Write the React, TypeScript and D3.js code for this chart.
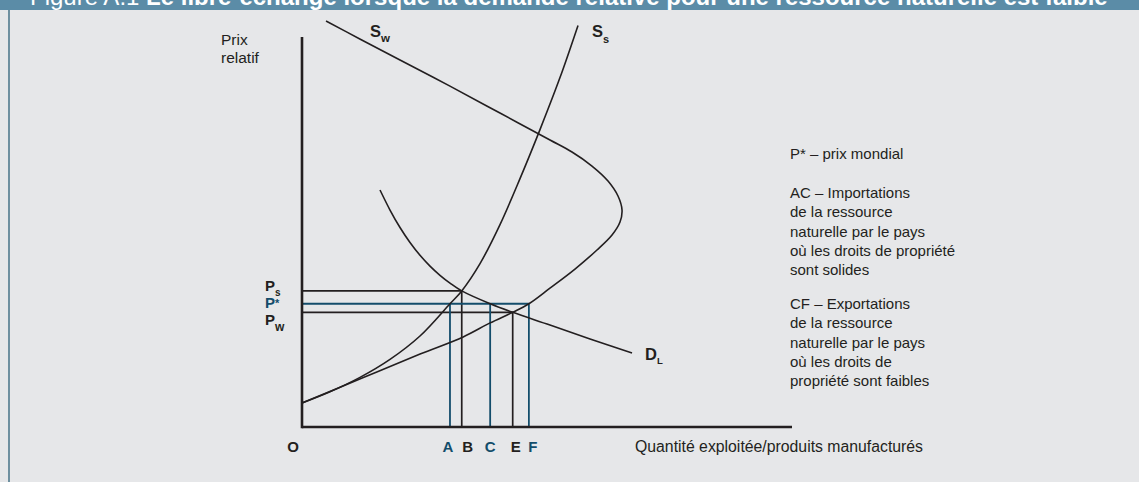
import React from 'react';
import * as d3 from 'd3';

const W = 1139;
const H = 482;

// Price levels (vertical axis, arbitrary units 0-100)
const priceNames = ['P', 'P', 'P'];
const priceSubs = ['s', '*', 'w'];
const priceValues = [34.9, 31.6, 29.4]; // Ps, P*, Pw
const priceIsWorld = [false, true, false];
const priceLineEnds = [32.6, 46.3, 43.0]; // B, F, E

// Quantity marks (horizontal axis, arbitrary units 0-100)
const quantityLabels = ['A', 'B', 'C', 'E', 'F'];
const quantityValues = [30.2, 32.6, 38.4, 43.0, 46.3];
const quantityPriceTops = [31.6, 34.9, 31.6, 29.4, 31.6];
const quantityIsWorld = [true, false, true, false, true];

// Supply curve, country with strong property rights (S_s)
const ssQ = [0, 5.71, 11.84, 17.96, 24.08, 30.2, 32.6, 36.33, 40.41, 44.49, 48.57, 52.65, 56.33];
const ssP = [6.15, 9.03, 12.72, 17.33, 23.33, 31.6, 34.9, 41.9, 51.9, 63.69, 76.26, 89.59, 102.97];

// Supply curve, country with weak property rights (S_w), backward bending
const swQ = [0, 12.4, 24.1, 32.9, 38.4, 43.0, 46.3, 50.6, 55.71, 60.2, 63.27, 64.9, 65.31, 64.49, 62.45, 59.18, 55.1, 50.61, 40.4, 30.2, 20.0, 11.8, 4.9];
const swP = [6.15, 12.6, 18.7, 23.1, 26.7, 29.4, 31.6, 35.6, 40.51, 45.38, 49.23, 52.56, 55.64, 59.23, 63.08, 66.92, 70.51, 73.59, 80.5, 87.4, 94.1, 99.5, 104.1];

// Demand curve (D_L)
const dlQ = [15.92, 17.96, 20.0, 22.04, 24.08, 26.12, 28.16, 30.2, 32.6, 38.4, 43.0, 50.61, 58.78, 67.35];
const dlP = [60.77, 55.64, 51.15, 47.31, 44.03, 41.26, 38.9, 36.9, 34.9, 31.6, 29.4, 26.15, 22.56, 18.97];

const notesAC = [
  'AC – Importations',
  'de la ressource',
  'naturelle par le pays',
  'où les droits de propriété',
  'sont solides',
];
const notesCF = [
  'CF – Exportations',
  'de la ressource',
  'naturelle par le pays',
  'où les droits de',
  'propriété sont faibles',
];

const INK = '#231f20';
const TEAL = '#134d6b';
const FONT = '"Liberation Sans", Arial, Helvetica, sans-serif';

export default function App() {
  const x = d3.scaleLinear().domain([0, 100]).range([302, 792]);
  const y = d3.scaleLinear().domain([0, 100]).range([427, 37]);

  const line = d3
    .line<[number, number]>()
    .x((d) => x(d[0]))
    .y((d) => y(d[1]))
    .curve(d3.curveCatmullRom.alpha(0.5));

  const ss = line(ssQ.map((q, i) => [q, ssP[i]] as [number, number])) || '';
  const sw = line(swQ.map((q, i) => [q, swP[i]] as [number, number])) || '';
  const dl = line(dlQ.map((q, i) => [q, dlP[i]] as [number, number])) || '';

  const noteX = 790;
  const lh = 19.3;

  return (
    <svg
      width={W}
      height={H}
      style={{ position: 'absolute', left: 0, top: 0, display: 'block' }}
      fontFamily={FONT}
    >
      <rect x={0} y={0} width={W} height={H} fill="#e6e7e9" />
      <rect x={0} y={0} width={W} height={10} fill="#5b8ca7" />
      <line x1={9} x2={9} y1={10} y2={H} stroke="#2f6079" strokeWidth={1.3} />
      <text x={30} y={5} fill="#ffffff" fontSize={24}>
        <tspan fontWeight={400}>Figure A.1 </tspan>
        <tspan fontWeight={700}>
          Le libre-échange lorsque la demande relative pour une ressource naturelle est faible
        </tspan>
      </text>

      {/* axis titles */}
      <text x={221} y={45} fontSize={15.5} fill={INK}>Prix</text>
      <text x={221} y={63} fontSize={15.5} fill={INK}>relatif</text>
      <text x={635} y={452} fontSize={15.8} fill={INK}>Quantité exploitée/produits manufacturés</text>

      {/* guide lines (black first, teal on top) */}
      {priceValues.map((p, i) =>
        priceIsWorld[i] ? null : (
          <line key={'hp' + i} x1={x(0)} x2={x(priceLineEnds[i])} y1={y(p)} y2={y(p)} stroke={INK} strokeWidth={1.7} />
        )
      )}
      {quantityValues.map((q, i) =>
        quantityIsWorld[i] ? null : (
          <line key={'vq' + i} x1={x(q)} x2={x(q)} y1={y(0)} y2={y(quantityPriceTops[i])} stroke={INK} strokeWidth={1.7} />
        )
      )}
      {priceValues.map((p, i) =>
        priceIsWorld[i] ? (
          <line key={'hpw' + i} x1={x(0)} x2={x(priceLineEnds[i])} y1={y(p)} y2={y(p)} stroke={TEAL} strokeWidth={1.8} />
        ) : null
      )}
      {quantityValues.map((q, i) =>
        quantityIsWorld[i] ? (
          <line key={'vqw' + i} x1={x(q)} x2={x(q)} y1={y(0)} y2={y(quantityPriceTops[i])} stroke={TEAL} strokeWidth={1.8} />
        ) : null
      )}

      {/* curves */}
      <path d={ss} fill="none" stroke={INK} strokeWidth={1.6} />
      <path d={sw} fill="none" stroke={INK} strokeWidth={1.6} />
      <path d={dl} fill="none" stroke={INK} strokeWidth={1.6} />

      {/* axes */}
      <line x1={x(0)} x2={x(0)} y1={y(0) + 1.3} y2={y(100)} stroke={INK} strokeWidth={2.6} />
      <line x1={x(0)} x2={x(100)} y1={y(0)} y2={y(0)} stroke={INK} strokeWidth={2.6} />

      {/* curve labels */}
      <text x={370} y={37} fontSize={16.5} fontWeight={700} fill={INK}>
        S<tspan fontSize={11.5} dy={5}>w</tspan>
      </text>
      <text x={592} y={37} fontSize={16.5} fontWeight={700} fill={INK}>
        S<tspan fontSize={11} dy={5.5}>s</tspan>
      </text>
      <text x={645} y={360} fontSize={16.5} fontWeight={700} fill={INK}>
        D<tspan fontSize={9.5} dy={3.5}>L</tspan>
      </text>

      {/* price labels */}
      {priceValues.map((p, i) => {
        const yy = i === 0 ? 291 : i === 1 ? 308 : 325;
        const col = priceIsWorld[i] ? TEAL : INK;
        return (
          <text key={'pl' + i} x={265} y={yy} fontSize={15} fontWeight={700} fill={col}>
            {priceNames[i]}
            {i === 1 ? (
              <tspan fontSize={11} dy={-1}>{priceSubs[i]}</tspan>
            ) : (
              <tspan fontSize={i === 0 ? 10 : 12} dy={i === 0 ? 5 : 6}>{priceSubs[i]}</tspan>
            )}
          </text>
        );
      })}

      {/* quantity labels */}
      <text x={x(0) - 9} y={452} fontSize={15} fontWeight={700} fill={INK} textAnchor="middle">O</text>
      {quantityValues.map((q, i) => (
        <text
          key={'ql' + i}
          x={x(q) + (i === 0 ? -2 : i === 1 ? 6 : i === 3 ? 3 : i === 4 ? 4 : 0)}
          y={452}
          fontSize={15}
          fontWeight={700}
          textAnchor="middle"
          fill={quantityIsWorld[i] ? TEAL : INK}
        >
          {quantityLabels[i]}
        </text>
      ))}

      {/* notes */}
      <text x={noteX} y={159} fontSize={15} fill={INK}>P* – prix mondial</text>
      {notesAC.map((t, i) => (
        <text key={'ac' + i} x={noteX} y={198 + i * lh} fontSize={15} fill={INK}>{t}</text>
      ))}
      {notesCF.map((t, i) => (
        <text key={'cf' + i} x={noteX} y={309 + i * lh} fontSize={15} fill={INK}>{t}</text>
      ))}
    </svg>
  );
}
